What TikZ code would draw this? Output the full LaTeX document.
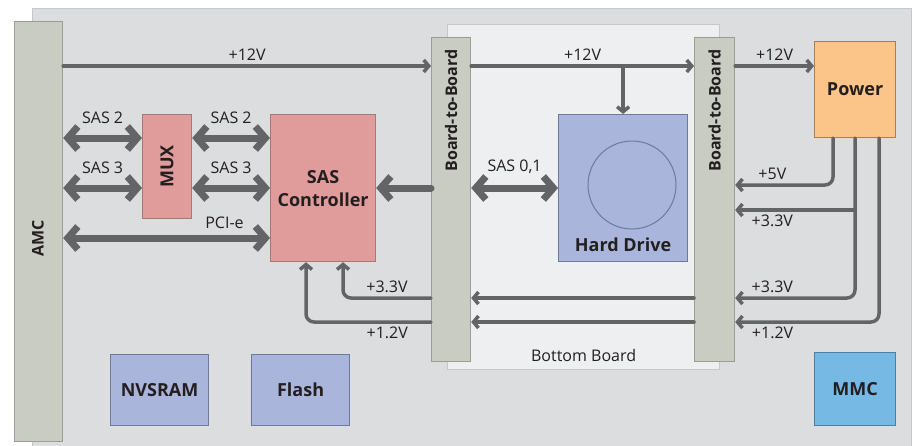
\documentclass[tikz,border=0pt]{standalone}
\usepackage{fontspec}
\setmainfont{Open Sans}
\usepackage{xcolor}
\usetikzlibrary{arrows.meta,positioning}

\definecolor{boardfill}{HTML}{DCDDDF}
\definecolor{boardline}{HTML}{C6C7C9}
\definecolor{lowerfill}{HTML}{EEEFF1}
\definecolor{connfill}{HTML}{C9CCC2}
\definecolor{connline}{HTML}{9A9E90}
\definecolor{redfill}{HTML}{E09C9A}
\definecolor{redline}{HTML}{A87674}
\definecolor{bluefill}{HTML}{A9B5DA}
\definecolor{blueline}{HTML}{6B7A9E}
\definecolor{orangefill}{HTML}{FBC489}
\definecolor{orangeline}{HTML}{B07E4A}
\definecolor{mmcfill}{HTML}{76B9E5}
\definecolor{mmcline}{HTML}{4A7FA6}
\definecolor{wiregray}{HTML}{636466}
\definecolor{ink}{HTML}{231F20}

\begin{document}
\begin{tikzpicture}[
  x=1pt, y=-1pt,
  every node/.style={font=\fontsize{16}{19}\selectfont, text=ink},
  box/.style={rectangle, anchor=north west, inner sep=0pt, line width=1.2pt, align=center, font=\fontsize{18}{24}\selectfont\bfseries},
  conn/.style={box, draw=connline, fill=connfill},
  redbox/.style={box, draw=redline, fill=redfill},
  bluebox/.style={box, draw=blueline, fill=bluefill},
  vtext/.style={rotate=90, font=\fontsize{16}{19}\selectfont\bfseries},
  wire/.style={draw=wiregray, line width=3.5pt, line cap=round, line join=round, -{Straight Barb[length=5pt,width=12pt]}},
  link/.style={draw=wiregray, line width=7pt, line cap=round, {Straight Barb[length=10pt,width=23pt]}-{Straight Barb[length=10pt,width=23pt]}}
]
\useasboundingbox (0,0) rectangle (917,445);

% Boards
\node[box, draw=boardline, fill=boardfill, minimum width=879pt, minimum height=450pt] (board) at (32,8) {};
\node[box, draw=boardline, fill=lowerfill, minimum width=272pt, minimum height=345pt] (lower) at (447,24) {};
\node[above=5pt of lower.south] (lowertext) {Bottom Board};

% Connectors
\node[conn, minimum width=48pt, minimum height=420pt] (amc) at (14,21) {};
\node[vtext] (amctext) at (38,238) {AMC};
\node[conn, minimum width=39pt, minimum height=324pt] (b2bl) at (431,37) {};
\node[vtext, anchor=east] (b2bltext) at ([yshift=-9pt]b2bl.north) {Board-to-Board};
\node[conn, minimum width=40pt, minimum height=324pt] (b2br) at (694,37) {};
\node[vtext, anchor=east] (b2brtext) at ([yshift=-9pt]b2br.north) {Board-to-Board};

% Blocks
\node[redbox, minimum width=49pt, minimum height=104pt] (mux) at (142,114) {};
\node[vtext, font=\fontsize{18}{22}\selectfont\bfseries] (muxtext) at (mux.center) {MUX};
\node[redbox, minimum width=105pt, minimum height=147pt] (ctrl) at (270,114) {SAS\\[-1pt]Controller};
\node[bluebox, minimum width=129pt, minimum height=147pt] (hdd) at (558,114) {};
\node[circle, draw=blueline, line width=1pt, minimum size=88pt] (disk) at (632,185) {};
\node[above=7pt of hdd.south, font=\fontsize{18}{22}\selectfont\bfseries] (hddtext) {Hard Drive};
\node[box, draw=orangeline, fill=orangefill, minimum width=81pt, minimum height=96pt] (pwr) at (814,41) {Power};
\node[box, draw=mmcline, fill=mmcfill, minimum width=81pt, minimum height=73pt] (mmc) at (814,352) {MMC};
\node[bluebox, minimum width=98pt, minimum height=71pt] (nvsram) at (110,354) {NVSRAM};
\node[bluebox, minimum width=98pt, minimum height=71pt] (flash) at (251,354) {Flash};

% Levels
\coordinate (v12) at (0,66);
\coordinate (s2) at (0,138);
\coordinate (s3) at (0,188);
\coordinate (pci) at (0,238);
\coordinate (r5) at (833,185);
\coordinate (t33) at (855,210);
\coordinate (r33) at (855,298);
\coordinate (r12) at (879,322);
\coordinate (c33) at (343,298);
\coordinate (c12) at (306,322);

% +12V
\draw[wire] (amc.east |- v12) -- node[above] {+12V} (b2bl.west |- v12);
\draw[wire] (b2bl.east |- v12) -- node[above] {+12V} (b2br.west |- v12);
\draw[wire] (hdd.north |- v12) -- (hdd.north);
\draw[wire] (b2br.east |- v12) -- node[above] {+12V} (pwr.west |- v12);

% Data links
\draw[link] (amc.east |- s2) -- node[above=8pt] {SAS 2} (mux.west |- s2);
\draw[link] (amc.east |- s3) -- node[above=8pt] {SAS 3} (mux.west |- s3);
\draw[link] (mux.east |- s2) -- node[above=8pt] {SAS 2} (ctrl.west |- s2);
\draw[link] (mux.east |- s3) -- node[above=8pt] {SAS 3} (ctrl.west |- s3);
\draw[link] (amc.east |- pci) -- node[pos=0.78, above=3pt] {PCI-e} (ctrl.west |- pci);
\draw[link, -{Straight Barb[length=10pt,width=23pt]}] (b2bl.west |- s3) -- (ctrl.east |- s3);
\draw[link] (b2bl.east |- s3) -- node[above=8pt] {SAS 0,1} (hdd.west |- s3);

% Power rails
\draw[wire, rounded corners=8pt] (pwr.south -| r5) -- (r5) -- node[pos=0.62, above] {+5V} (b2br.east |- r5);
\draw[wire] (t33) -- node[pos=0.69, below] {+3.3V} (b2br.east |- t33);
\draw[wire, rounded corners=8pt] (pwr.south -| r33) -- (r33) -- node[pos=0.69, above] {+3.3V} (b2br.east |- r33);
\draw[wire, rounded corners=8pt] (pwr.south -| r12) -- (r12) -- node[pos=0.74, below] {+1.2V} (b2br.east |- r12);
\draw[wire] (b2br.west |- r33) -- (b2bl.east |- r33);
\draw[wire] (b2br.west |- r12) -- (b2bl.east |- r12);
\draw[wire, rounded corners=8pt] (b2bl.west |- r33) -- node[above] {+3.3V} (c33) -- (c33 |- ctrl.south);
\draw[wire, rounded corners=8pt] (b2bl.west |- r12) -- node[pos=0.35, below] {+1.2V} (c12) -- (c12 |- ctrl.south);

\end{tikzpicture}
\end{document}
